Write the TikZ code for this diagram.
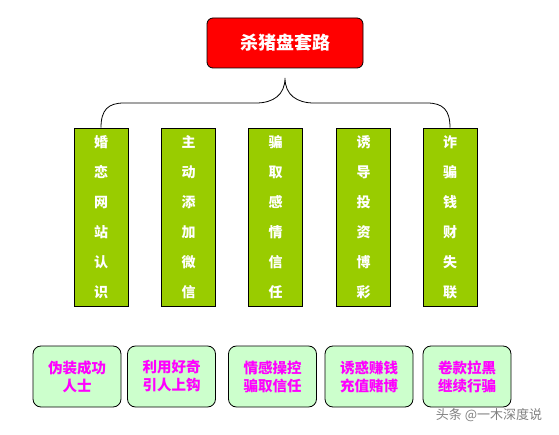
\documentclass[tikz,border=0pt]{standalone}
\usepackage{fontspec}
\setmainfont{Noto Sans CJK SC}
\definecolor{titlered}{HTML}{FF0000}
\definecolor{stagegreen}{HTML}{99CC00}
\definecolor{tipgreen}{HTML}{CCFFCC}
\definecolor{tipmagenta}{HTML}{FF00FF}
\tikzset{
  titlebox/.style={draw=black, line width=0.8pt, fill=titlered, rounded corners=6pt,
    minimum width=156pt, minimum height=50pt, text=white,
    font=\fontsize{18}{20}\selectfont\bfseries},
  stagebox/.style={draw=black, line width=0.8pt, fill=stagegreen, minimum width=54pt,
    minimum height=178pt, inner sep=0pt, text=white, align=center,
    font=\fontsize{14}{30}\selectfont\bfseries},
  tipbox/.style={draw=black, line width=0.8pt, fill=tipgreen, rounded corners=8pt,
    minimum width=88pt, minimum height=61pt, inner sep=0pt, text=tipmagenta, align=center,
    font=\fontsize{14.5}{18}\selectfont\bfseries}
}
\begin{document}
\begin{tikzpicture}[x=1pt, y=-1pt]
        \useasboundingbox (0,0) rectangle (559,435);

        % title
        \node[titlebox] (title) at (285,43) {杀猪盘套路};

        % stages
        \node[stagebox] (s1) at (101,217) {婚\\恋\\网\\站\\认\\识};
        \node[stagebox] (s2) at (188.5,217) {主\\动\\添\\加\\微\\信};
        \node[stagebox] (s3) at (275.5,217) {骗\\取\\感\\情\\信\\任};
        \node[stagebox] (s4) at (363.5,217) {诱\\导\\投\\资\\博\\彩};
        \node[stagebox] (s5) at (450,217) {诈\\骗\\钱\\财\\失\\联};

        % brace under the title
        \coordinate (tip) at (285,78);
        \draw[line width=0.8pt] (s1.north) .. controls (101,110) and (108,103) .. (124,103)
            -- (256,103) .. controls (273,103) and (285,95) .. (tip)
            .. controls (285,95) and (297,103) .. (314,103)
            -- (427,103) .. controls (443,103) and (450,110) .. (s5.north);

        % summaries
        \node[tipbox] (t1) at (77,376.5) {伪装成功\\人士};
        \node[tipbox] (t2) at (171.5,376.5) {利用好奇\\引人上钩};
        \node[tipbox] (t3) at (272.5,376.5) {情感操控\\骗取信任};
        \node[tipbox] (t4) at (369,376.5) {诱惑赚钱\\充值赌博};
        \node[tipbox] (t5) at (467,376.5) {卷款拉黑\\继续行骗};

        \node[text=gray, font=\fontsize{13}{15}\selectfont] (mark) at (489,415) {头条 @一木深度说};
    \end{tikzpicture}
\end{document}
